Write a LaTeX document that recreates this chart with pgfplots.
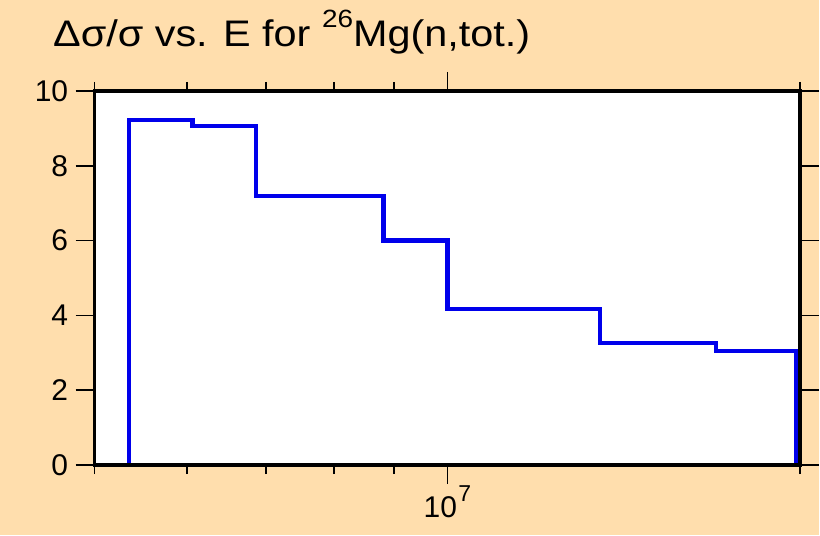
\documentclass[border=0pt]{standalone}
\usepackage{pgfplots}
\pgfplotsset{compat=1.18}
\usepackage{fontspec}
\usepackage{graphicx}
\setmainfont{Liberation Sans}
\definecolor{bg}{RGB}{255,222,173}
\definecolor{lineblue}{RGB}{0,0,235}
\newcommand{\supt}[3]{\raisebox{#2bp}{\fontsize{#1bp}{#1bp}\selectfont #3}}
\begin{document}
\begin{tikzpicture}[x=1bp,y=1bp]
\fill[bg] (-94.6,-70.3) rectangle (725.4,465.7);
\begin{axis}[
 at={(0,0)}, anchor=south west,
 scale only axis, width=706.5bp, height=374.7bp,
 xmode=log, xmin=5e6, xmax=2e7, ymin=0, ymax=10,
 ytick={0,2,4,6,8,10},
 xtick={1e7}, xticklabels={10\kern1.5bp\supt{23}{16}{7}},
 minor xtick={5e6,6e6,7e6,8e6,9e6,2e7},
 tick align=outside,
 major tick length=19bp, minor tick length=9bp,
 every tick/.style={black, line width=1.8bp},
 axis line style={line width=3.6bp},
 axis background/.style={fill=white},
 axis on top,
 clip=false,
 tick label style={font=\fontsize{30bp}{32bp}\selectfont},
 xticklabel style={yshift=1.5bp},
 yticklabel style={xshift=-4bp},
 /pgf/number format/assume math mode=true,
]
\addplot[const plot mark left, color=lineblue, line width=4.2bp, line join=miter, mark=none] coordinates {
 (5.35e6,0) (5.35e6,9.23) (6.06e6,9.07) (6.87e6,7.19) (8.82e6,6.0) (1e7,4.17) (1.349e7,3.26) (1.696e7,3.06) (1.984e7,3.06) (1.984e7,0)
};
\end{axis}
\node[anchor=base west, inner sep=0pt] at (-41.6,418.7) {\scalebox{1.12}[1]{\fontsize{37bp}{40bp}\selectfont Δσ/σ vs. E for \supt{25}{19}{26}Mg(n,tot.)}};
\end{tikzpicture}
\end{document}
